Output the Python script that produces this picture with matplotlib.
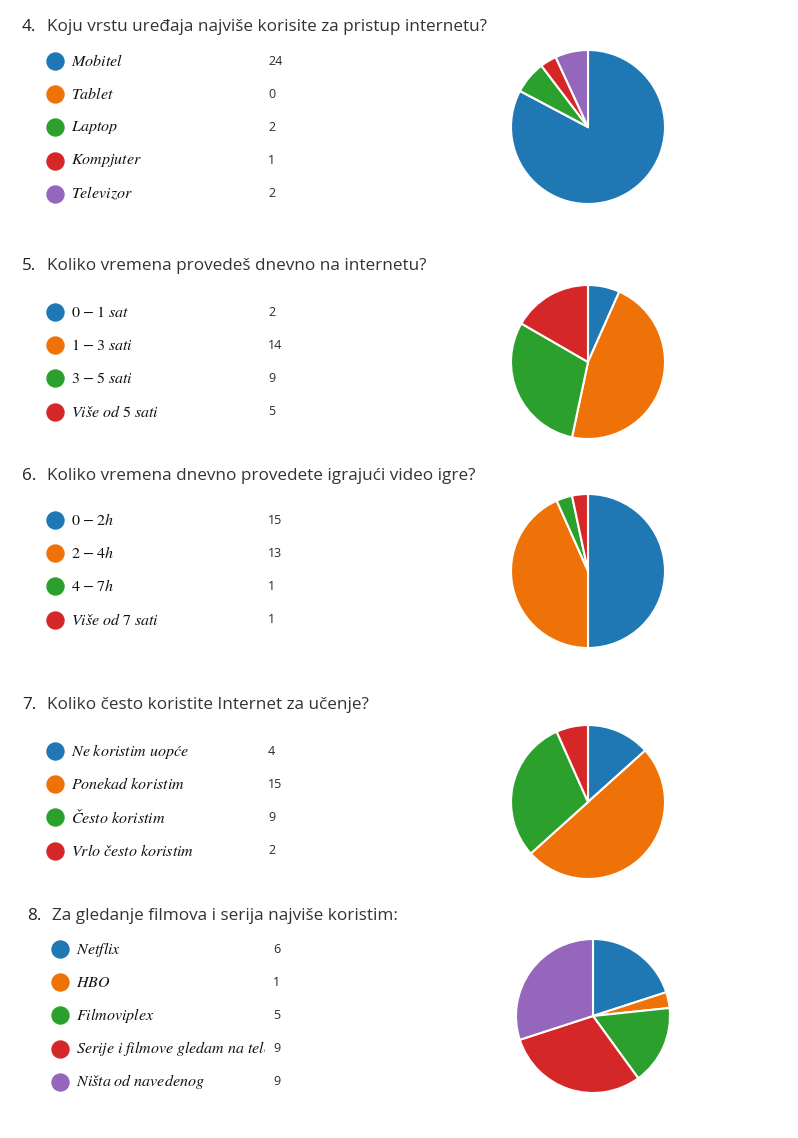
import numpy as np
import matplotlib.pyplot as plt
from matplotlib.transforms import Bbox

plt.rcParams['mathtext.fontset'] = 'stix'

# podaci iz ankete
naslovi = [
    "Koju vrstu uređaja najviše korisite za pristup internetu?",
    "Koliko vremena provedeš dnevno na internetu?",
    "Koliko vremena dnevno provedete igrajući video igre?",
    "Koliko često koristite Internet za učenje?",
    "Za gledanje filmova i serija najviše koristim:",
]
brojevi = ["4.", "5.", "6.", "7.", "8."]

odg4 = ["Mobitel", "Tablet", "Laptop", "Kompjuter", "Televizor"]
vr4 = [24, 0, 2, 1, 2]
odg5 = ["0 - 1 sat", "1 - 3 sati", "3 - 5 sati", "Više od 5 sati"]
vr5 = [2, 14, 9, 5]
odg6 = ["0 - 2h", "2 - 4h", "4 - 7h", "Više od 7 sati"]
vr6 = [15, 13, 1, 1]
odg7 = ["Ne koristim uopće", "Ponekad koristim", "Često koristim", "Vrlo često koristim"]
vr7 = [4, 15, 9, 2]
odg8 = ["Netflix", "HBO", "Filmoviplex", "Serije i filmove gledam na tele", "Ništa od navedenog"]
vr8 = [6, 1, 5, 9, 9]

odgovori = [odg4, odg5, odg6, odg7, odg8]
vrijednosti = [vr4, vr5, vr6, vr7, vr8]

boje = ["#1f77b4", "#ee7207", "#2ca02c", "#d62728", "#9467bd"]

W, H = 798, 1138
fig = plt.figure(figsize=(W / 100, H / 100), dpi=100)
bg = fig.add_axes([0, 0, 1, 1])
bg.set_xlim(0, W)
bg.set_ylim(H, 0)
bg.axis('off')

# raspored (pikseli)
naslov_y = [27, 266, 476, 705, 916]
red_y = [61, 312, 520, 751, 949]
pita_c = [(588, 127), (588, 362), (588, 571), (588, 802), (593, 1016)]
pomak = [0, 0, 0, 0, 5]
korak = 33.2
R = 77


def u_math(s):
    s = s.replace(" - ", r"\;{-}\;")
    return "$" + s.replace(" ", r"\ ") + "$"


for k in range(5):
    dx = pomak[k]
    bg.text(22 + dx, naslov_y[k], brojevi[k], fontsize=12.3, family="Open Sans",
            color="#222222", va="center")
    bg.text(47 + dx, naslov_y[k], naslovi[k], fontsize=12.3, family="Open Sans",
            color="#333333", va="center")
    for i in range(len(odgovori[k])):
        y = red_y[k] + i * korak
        bg.scatter(55 + dx, y, s=150, color=boje[i], zorder=3)
        t = bg.text(71 + dx, y, u_math(odgovori[k][i]), fontsize=11.5,
                    color="#111111", va="center")
        # odsijeci predugi tekst prije broja
        t.set_clip_box(Bbox([[0, 0], [260 + dx, H]]))
        t.set_clip_on(True)
        bg.text(268 + dx, y, str(vrijednosti[k][i]), fontsize=9, family="Open Sans",
                color="#2a2a2a", va="center")

    cx, cy = pita_c[k]
    ax = fig.add_axes([(cx - R) / W, 1 - (cy + R) / H, 2 * R / W, 2 * R / H])
    ax.pie(vrijednosti[k], colors=boje[:len(vrijednosti[k])], startangle=90,
           counterclock=False, wedgeprops=dict(edgecolor="white", linewidth=1.5))
    ax.set_xlim(-1, 1)
    ax.set_ylim(-1, 1)
    ax.axis('off')

plt.savefig("out.png", dpi=100)
